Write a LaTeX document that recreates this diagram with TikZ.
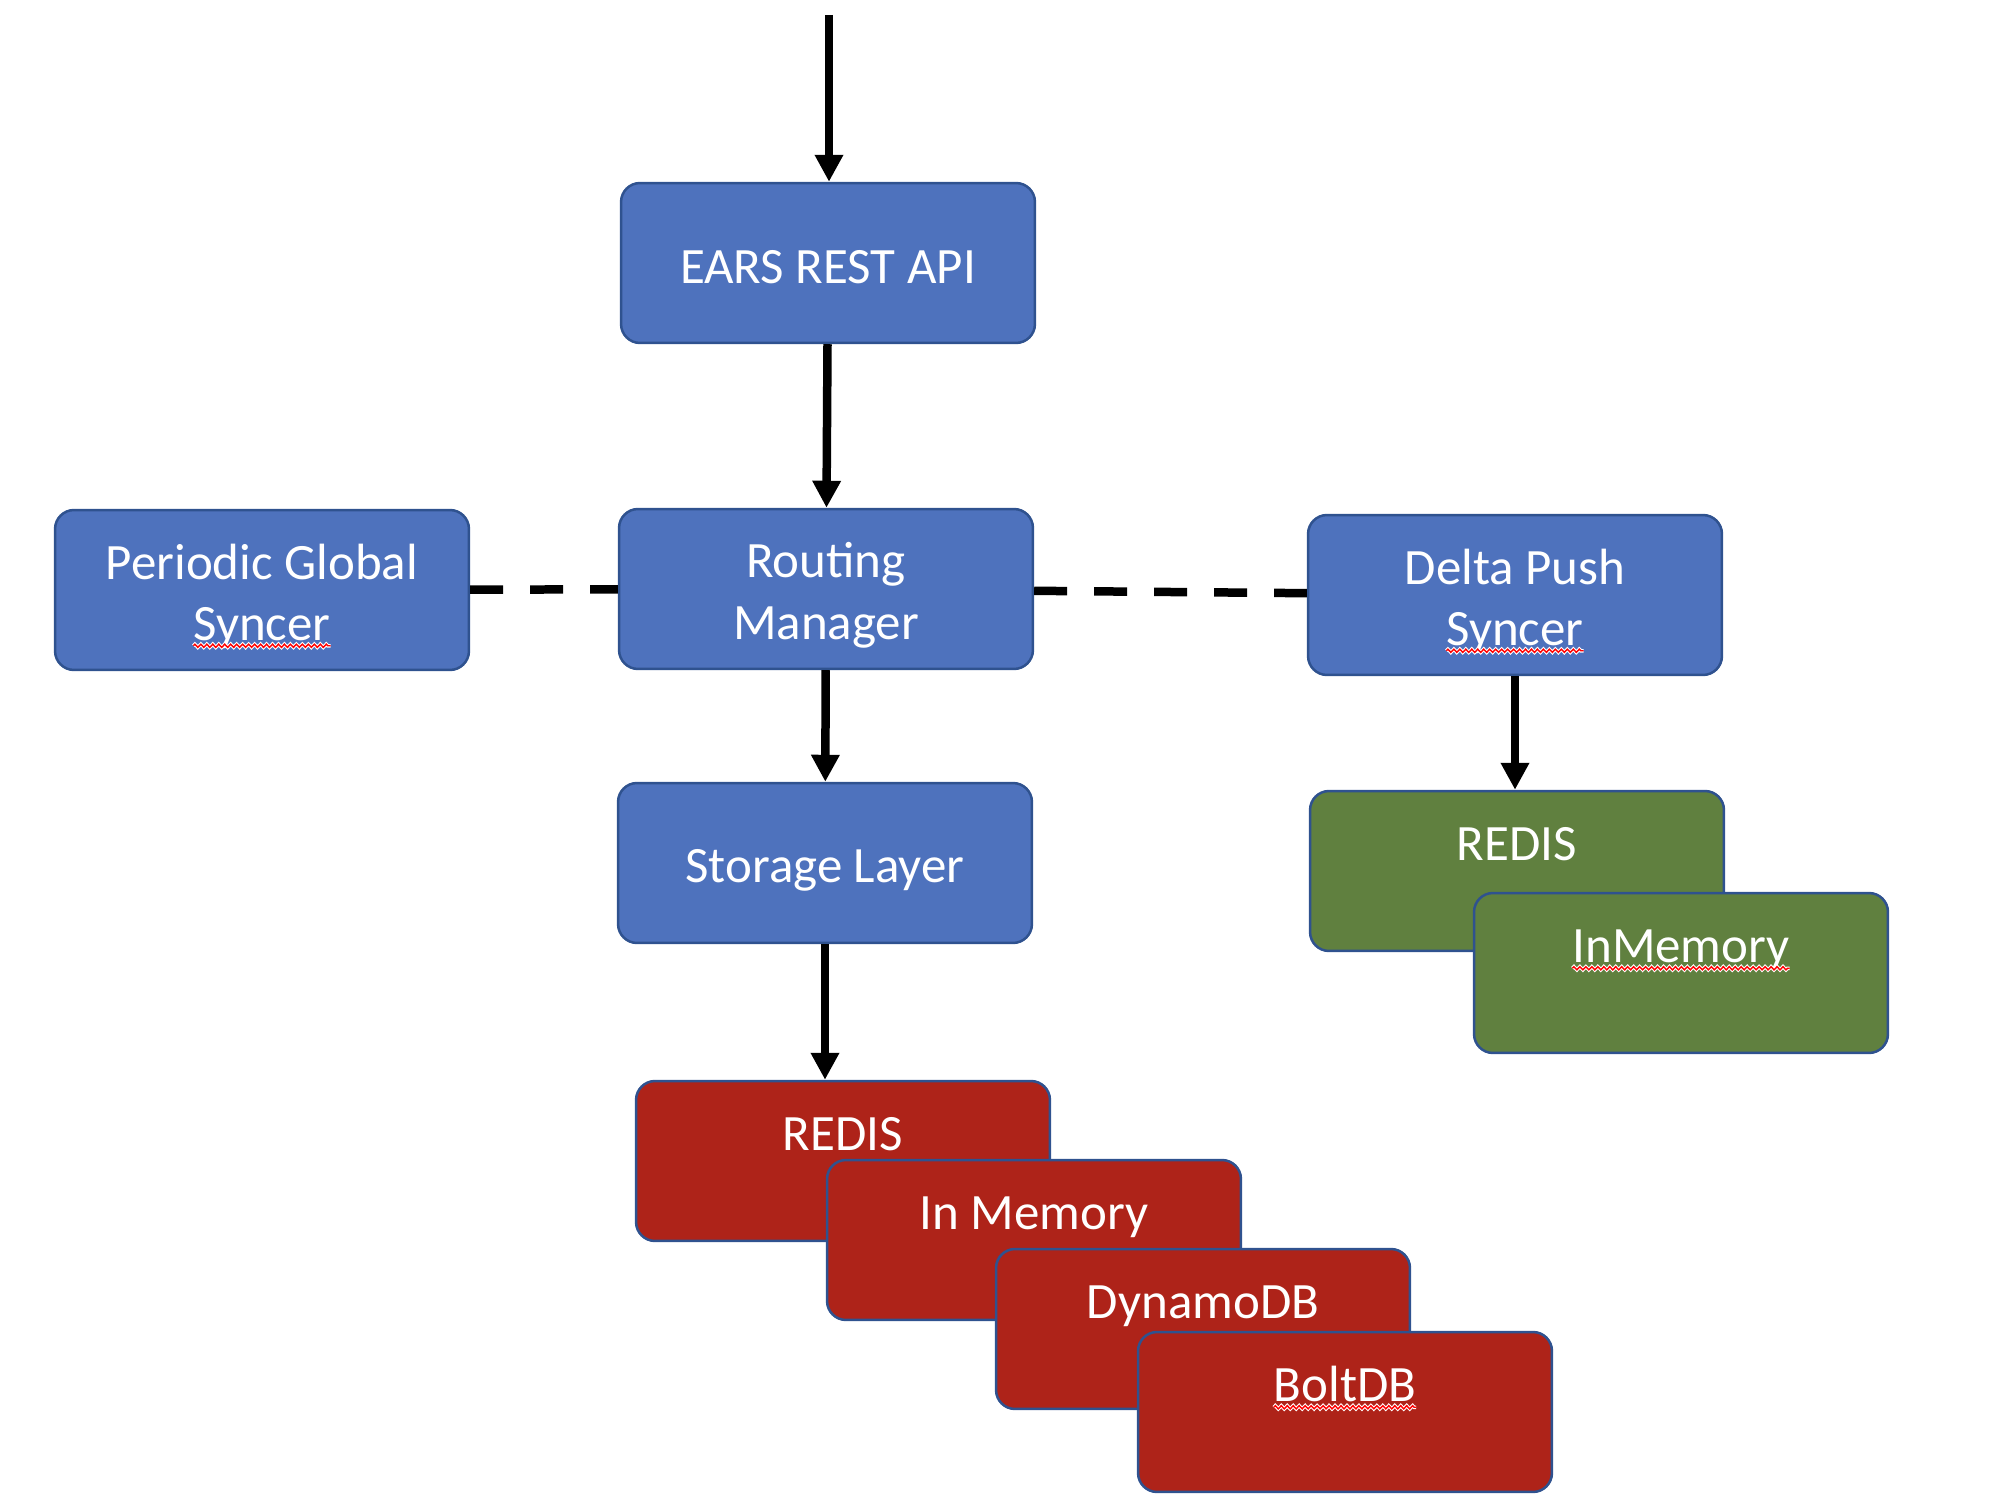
\documentclass[tikz,border=0pt]{standalone}
\usepackage{fontspec}
\setmainfont{Carlito}
\usetikzlibrary{arrows.meta,decorations.pathmorphing}
\definecolor{boxblue}{HTML}{4E72BD}
\definecolor{boxedge}{HTML}{2F528F}
\definecolor{dbred}{HTML}{AE2319}
\definecolor{dbgreen}{HTML}{60803F}
\newcommand{\tstrut}{\rule[-3.8pt]{0pt}{31.2pt}}
% red spell-check wave under a word
\newcommand{\spell}[1]{\tikz[baseline=(w.base)]{\node[draw=none,fill=none,minimum width=0pt,minimum height=0pt,inner sep=0pt,outer sep=0pt,rounded corners=0pt] (w) {#1};
	\draw[red,line width=0.8pt,rounded corners=0pt,preaction={draw=white,line width=2pt},decorate,decoration={zigzag,amplitude=0.9pt,segment length=3.4pt}] ([yshift=-3pt]w.base west) -- ([yshift=-3pt]w.base east);}}
\tikzset{
	box/.style={draw=boxedge,line width=0.05cm,rounded corners=0.38cm,minimum width=8.28cm,minimum height=3.2cm,inner sep=0pt,text=white,align=center,font=\fontsize{29}{35}\selectfont},
	svc/.style={box,fill=boxblue},
	redstore/.style={box,fill=dbred},
	greenstore/.style={box,fill=dbgreen},
	flow/.style={line width=0.17cm,-{Triangle[width=0.54cm,length=0.54cm]}},
	link/.style={line width=0.17cm,dash pattern=on 0.66cm off 0.54cm}
}
\begin{document}
\begin{tikzpicture}[x=0.02cm,y=-0.02cm]
	\useasboundingbox (0,0) rectangle (1992,1510);
	
	\coordinate (entry) at (829,15);
	\node[svc] (api) at (828,263) {\tstrut EARS REST API};
	\node[svc] (router) at (826,589) {\tstrut Routing\\\tstrut Manager};
	\node[svc] (periodic) at (262,590) {\tstrut Periodic Global\\\tstrut \spell{Syncer}};
	\node[svc] (delta) at (1515,595) {\tstrut Delta Push\\\tstrut \spell{Syncer}};
	\node[svc] (storage) at (825,863) {\tstrut Storage Layer};
	
	\foreach \n/\x/\y/\t in {sredis/843/1161/REDIS,smem/1034/1240/In Memory,sdynamo/1203/1329/DynamoDB,sbolt/1345/1412/\spell{BoltDB}}
	\node[redstore] (\n) at (\x,\y) {\tstrut\t\\\tstrut};
	
	\foreach \n/\x/\y/\t in {gredis/1517/871/REDIS,gmem/1681/973/\spell{InMemory}}
	\node[greenstore] (\n) at (\x,\y) {\tstrut\t\\\tstrut};
	
	\draw[flow] (entry) -- (entry |- api.north);
	\draw[flow] (api) -- (router);
	\draw[flow] (router) -- (storage);
	\draw[flow] (storage.south) -- (storage.south |- sredis.north);
	\draw[flow] (delta.south) -- (delta.south |- gredis.north);
	
	\draw[link] (periodic) -- (router);
	\draw[link] (router) -- (delta);
\end{tikzpicture}
\end{document}
